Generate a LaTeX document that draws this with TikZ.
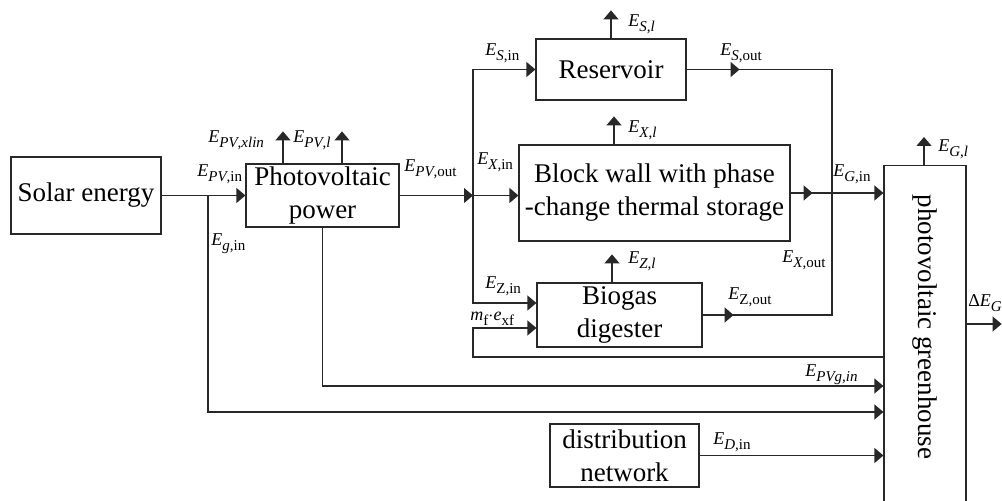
\documentclass[tikz,border=0pt]{standalone}
\usepackage{fontspec}
\setmainfont{Liberation Serif}
\usetikzlibrary{arrows.meta,positioning,calc}
\definecolor{linegray}{RGB}{40,40,40}
\newcommand{\sub}[1]{\raisebox{-0.25em}{\fontsize{7.5}{8}\selectfont #1}}
\newcommand{\En}[1]{\textit{E}\sub{#1}}

\begin{document}
\begin{tikzpicture}[
  x=0.5pt, y=-0.5pt,
  box/.style={rectangle, draw=linegray, line width=0.6pt, inner sep=0pt,
              align=center, font=\fontsize{13.5}{16.5}\selectfont},
  lbl/.style={anchor=base west, inner sep=0pt, font=\fontsize{9}{10}\selectfont},
  arr/.style={-{Triangle[length=4.5pt,width=7.5pt]}, draw=linegray, line width=0.6pt},
  ln/.style={draw=linegray, line width=0.6pt},
]
\useasboundingbox (0,0) rectangle (1002,501);
\clip (0,0) rectangle (1002,501);

% blocks
\node[box, minimum width=75pt, minimum height=38.5pt] (solar) at (86,195.5) {Solar energy};
\node[box, minimum width=76.5pt, minimum height=31.5pt] (pv) at (322.5,195.5) {Photovoltaic\\power};
\node[box, minimum width=75pt, minimum height=30.5pt] (res) at (611,69.5) {Reservoir};
\node[box, minimum width=135.5pt, minimum height=48pt] (wall) at (654.5,193) {Block wall with phase\\-change thermal storage};
\node[box, minimum width=82.5pt, minimum height=32pt] (bio) at (619.5,315) {Biogas\\digester};
\node[box, minimum width=74.5pt, minimum height=31.5pt] (dist) at (624.5,455.5) {distribution\\network};
\node[box, minimum width=41pt, minimum height=177.5pt, anchor=north] (gh) at (925,165) {};
\node[box, draw=none, rotate=-90] (ghtext) at (925,327) {photovoltaic greenhouse};

% junctions
\coordinate (j1) at (208,195.5);
\coordinate (j2) at (473,195.5);
\coordinate (jG) at (832,193);
\coordinate (jm) at (473,357);

% solar -> PV, split to greenhouse
\draw[arr] (solar) -- (pv);
\draw[arr] (j1) |- (gh.west |- 0,412);
\draw[arr] (pv.south) |- (gh.west |- 0,386);

% PV -> storage branches
\draw[arr] (pv) -- (j2);
\draw[arr] (j2) -- (wall.west |- j2);
\draw[arr] (j2) |- (res);
\draw[arr] (j2) |- ([yshift=6pt]bio.west);
\draw[arr] (gh.west |- jm) -- (jm) -- ([yshift=-6.5pt]bio.west -| jm) -- ([yshift=-6.5pt]bio.west);

% outputs collected into greenhouse
\draw[arr] (res.east) -- ++(53,0);
\draw[ln] (res.east) -| (jG);
\draw[arr] (bio.east) -- ++(31,0);
\draw[ln] (bio.east) -| (jG);
\draw[arr] (wall.east) -- ++(22,0);
\draw[arr] (wall.east) -- (gh.west |- wall.east);
\draw[arr] (dist.east) -- (dist.east -| gh.west);
\draw[arr] (gh.east |- 0,324) -- ++(35,0);

% losses
\foreach \n/\dx in {res/0, wall/-40.5, bio/-7.5, gh/-1}{
  \draw[arr] ([xshift=\dx*0.5pt]\n.north) -- ++(0,-28);
}
\draw[arr] ([xshift=-39.5*0.5pt]pv.north) -- ++(0,-32);
\draw[arr] ([xshift=19.5*0.5pt]pv.north) -- ++(0,-32);

% labels
\node[lbl] (lpvin)  at (197,177) {\En{\textit{PV},in}};
\node[lbl] (lgin)   at (211,246) {\En{\textit{g},in}};
\node[lbl] (lpvx)   at (208,143) {\En{\textit{PV},\textit{xlin}}};
\node[lbl] (lpvl)   at (293,143) {\En{\textit{PV},\textit{l}}};
\node[lbl] (lpvout) at (404,172) {\En{\textit{PV},out}};
\node[lbl] (lsin)   at (485,56)  {\En{\textit{S},in}};
\node[lbl] (lsl)    at (628,27)  {\En{\textit{S},\textit{l}}};
\node[lbl] (lsout)  at (720,56)  {\En{\textit{S},out}};
\node[lbl] (lxl)    at (628,133) {\En{\textit{X},\textit{l}}};
\node[lbl] (lxin)   at (477,165) {\En{\textit{X},in}};
\node[lbl] (lgin2)  at (833,177) {\En{\textit{G},in}};
\node[lbl] (lxout)  at (782,263) {\En{\textit{X},out}};
\node[lbl] (lzl)    at (628,264) {\En{\textit{Z},\textit{l}}};
\node[lbl] (lzin)   at (485,289) {\En{Z,in}};
\node[lbl] (lmf)    at (470,321) {\textit{m}\sub{f}$\cdot$\textit{e}\sub{xf}};
\node[lbl] (lzout)  at (728,300) {\En{Z,out}};
\node[lbl] (lpvg)   at (805,377) {\En{\textit{PVg},\textit{in}}};
\node[lbl] (lgl)    at (938,152) {\En{\textit{G},\textit{l}}};
\node[lbl] (ldin)   at (713,445) {\En{\textit{D},in}};
\node[lbl] (ldg)    at (968,307) {Δ\En{\textit{G}}};
\end{tikzpicture}
\end{document}
